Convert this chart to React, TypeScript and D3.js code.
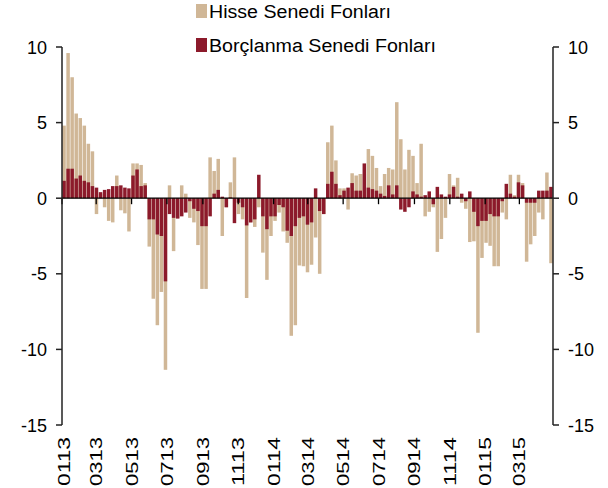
import { useEffect, useRef } from 'react';
import * as d3 from 'd3';

// Weekly fund flows, starting first week of Jan 2013
const hisse = [
  4.8, 9.6, 8.0, 5.6, 5.3, 4.8, 3.6, 3.1, -1.05, 0.3,
  -0.6, -1.5, -1.6, 1.5, -0.8, -1.0, -2.2, 2.3, 2.3, 2.2,
  1.0, -3.2, -6.65, -8.4, -6.2, -11.35, 0.85, -3.5, -1.3, 0.85,
  0.3, -1.3, -1.6, -3.1, -6.0, -6.0, 2.7, 1.8, 2.6, -2.5,
  -0.6, 1.05, 2.7, -1.05, -1.4, -6.6, -1.6, -1.9, -0.6, -3.6,
  -5.4, -2.5, -1.5, -0.95, -2.2, -2.95, -9.1, -8.4, -4.45, -4.5,
  -4.9, -4.4, -2.6, -5.0, -1.05, 3.7, 4.8, 2.5, 0.65, 0.65,
  -0.75, 1.65, 1.5, 1.6, 1.6, 3.25, 2.8, 2.0, 0.8, 1.6,
  2.0, 1.9, 6.35, 3.9, 1.9, 3.2, 2.8, 1.0, 3.6, -1.2,
  -0.9, -0.6, -3.55, -2.7, -1.3, 1.6, 0.85, 1.35, -0.3, -0.7,
  -2.9, -2.85, -8.9, -3.95, -2.95, -3.15, -4.5, -4.5, -0.95, -1.4,
  1.55, 0.2, 1.55, 1.0, -4.2, -3.05, -2.5, -0.95, -1.4, 1.7,
  -4.3,
];

const borclanma = [
  1.15, 1.95, 1.95, 1.3, 1.5, 1.15, 1.05, 0.8, 0.7, 0.4,
  0.55, 0.6, 0.8, 0.8, 0.85, 0.7, 0.65, 1.5, 1.9, 0.8,
  0.85, -1.4, -1.4, -2.4, -2.5, -5.5, -1.05, -1.3, -1.35, -1.2,
  -0.95, -0.2, -0.7, -0.85, -1.85, -1.85, -1.2, 0.3, 0.55, 0.1,
  -0.6, 0.05, -1.65, -0.3, -0.6, -1.8, -1.6, -1.4, 1.55, -1.2,
  -2.05, -1.2, -1.2, -0.45, -0.6, -2.15, -2.5, -1.85, -1.3, -1.2,
  -1.75, -1.6, 0.65, -0.85, -1.05, 0.95, 1.75, 0.95, 0.2, 0.5,
  0.7, 1.0, 0.5, 0.5, 2.3, 0.7, 0.6, 0.5, 0.3, 0.15,
  0.85, 0.25, 0.85, -0.75, -0.9, -0.6, 0.45, 0.25, 0.1, 0.2,
  0.45, -0.4, 0.75, 0.25, 0.1, 0.25, 0.75, 0.1, 0.3, -0.2,
  0.45, -0.9, -1.85, -1.5, -1.5, -1.05, -1.2, -1.2, -0.2, 0.95,
  0.3, 0.1, 1.05, 0.85, -0.3, -0.3, -0.3, 0.5, 0.5, 0.5,
  0.75,
];

const tickLabels = [
  '0113', '0313', '0513', '0713', '0913', '1113', '0114',
  '0314', '0514', '0714', '0914', '1114', '0115', '0315',
];

const seriesNames = ['Hisse Senedi Fonları', 'Borçlanma Senedi Fonları'];
const yTicks = [10, 5, 0, -5, -10, -15];

const TAN = '#d0b797';
const RED = '#8c1a2b';
const FONT = '"Liberation Sans", Arial, sans-serif';

export default function App() {
  const svgRef = useRef<SVGSVGElement>(null);

  useEffect(() => {
    if (!svgRef.current) return;
    const svg = d3.select(svgRef.current);
    svg.selectAll('*').remove();

    const width = 608;
    const height = 488;
    const margin = { top: 47, right: 55, bottom: 63, left: 62 };
    const right = width - margin.right;
    const bottom = height - margin.bottom;

    const start = new Date(2013, 0, 1);
    const weeks = hisse.map((_, i) => d3.timeDay.offset(start, i * 7));
    const end = d3.timeDay.offset(start, hisse.length * 7);

    const x = d3.scaleTime().domain([start, end]).range([margin.left, right]);
    const y = d3.scaleLinear().domain([-15, 10]).range([bottom, margin.top]);
    const step = (right - margin.left) / hisse.length;
    const barW = step * 0.86;

    // Hisse bars (behind)
    svg
      .append('g')
      .selectAll('rect')
      .data(hisse)
      .enter()
      .append('rect')
      .attr('x', (_, i) => x(weeks[i]) + (step - barW) / 2)
      .attr('y', (d) => y(Math.max(0, d)))
      .attr('width', barW)
      .attr('height', (d) => Math.abs(y(d) - y(0)))
      .attr('fill', TAN);

    // Borclanma bars (front)
    svg
      .append('g')
      .selectAll('rect')
      .data(borclanma)
      .enter()
      .append('rect')
      .attr('x', (_, i) => x(weeks[i]) + (step - barW) / 2)
      .attr('y', (d) => y(Math.max(0, d)))
      .attr('width', barW)
      .attr('height', (d) => Math.abs(y(d) - y(0)))
      .attr('fill', RED);

    // zero line with month ticks
    svg
      .append('line')
      .attr('x1', margin.left)
      .attr('x2', right)
      .attr('y1', y(0))
      .attr('y2', y(0))
      .attr('stroke', '#000')
      .attr('stroke-width', 1.3);

    const tickDates = tickLabels.map(
      (t) => new Date(2000 + +t.slice(2), +t.slice(0, 2) - 1, 1)
    );

    svg
      .append('g')
      .selectAll('line')
      .data(tickDates)
      .enter()
      .append('line')
      .attr('x1', (d) => Math.max(margin.left, x(d)))
      .attr('x2', (d) => Math.max(margin.left, x(d)))
      .attr('y1', y(0))
      .attr('y2', y(0) + 6)
      .attr('stroke', '#000')
      .attr('stroke-width', 1.3);

    // x labels (rotated)
    svg
      .append('g')
      .selectAll('text')
      .data(tickLabels)
      .enter()
      .append('text')
      .attr('transform', (_, i) => {
        const tx = Math.max(margin.left + 2, x(tickDates[i])) + 6;
        return `translate(${tx},437) rotate(-90)`;
      })
      .attr('text-anchor', 'end')
      .attr('font-family', FONT)
      .attr('font-size', 17)
      .attr('textLength', 49)
      .attr('lengthAdjust', 'spacingAndGlyphs')
      .attr('fill', '#000')
      .text((d) => d);

    // left & right axes
    [margin.left, right].forEach((ax, side) => {
      const g = svg.append('g');
      g.append('line')
        .attr('x1', ax)
        .attr('x2', ax)
        .attr('y1', y(10))
        .attr('y2', y(-15))
        .attr('stroke', '#222')
        .attr('stroke-width', 1.5);
      g.selectAll('line.tick')
        .data(yTicks)
        .enter()
        .append('line')
        .attr('class', 'tick')
        .attr('x1', ax)
        .attr('x2', side === 0 ? ax - 6 : ax + 6)
        .attr('y1', (d) => y(d))
        .attr('y2', (d) => y(d))
        .attr('stroke', '#222')
        .attr('stroke-width', 1.5);
      g.selectAll('text')
        .data(yTicks)
        .enter()
        .append('text')
        .attr('x', side === 0 ? ax - 15 : ax + 15)
        .attr('y', (d) => y(d) + 6.5)
        .attr('text-anchor', side === 0 ? 'end' : 'start')
        .attr('font-family', FONT)
        .attr('font-size', 18)
        .attr('fill', '#000')
        .text((d) => String(d));
    });

    // legend
    const legendColors = [TAN, RED];
    const legendWidths = [182, 227];
    const legend = svg.append('g');
    seriesNames.forEach((name, i) => {
      const cy = 11 + i * 34;
      legend
        .append('rect')
        .attr('x', 196)
        .attr('y', cy - 7)
        .attr('width', 11)
        .attr('height', 14)
        .attr('fill', legendColors[i]);
      legend
        .append('text')
        .attr('x', 209)
        .attr('y', cy + 6.5)
        .attr('font-family', FONT)
        .attr('font-size', 18)
        .attr('textLength', legendWidths[i])
        .attr('lengthAdjust', 'spacingAndGlyphs')
        .attr('fill', '#000')
        .text(name);
    });
  }, []);

  return (
    <svg
      ref={svgRef}
      width={608}
      height={488}
      style={{ position: 'absolute', left: 0, top: 0, background: '#fff' }}
    />
  );
}
